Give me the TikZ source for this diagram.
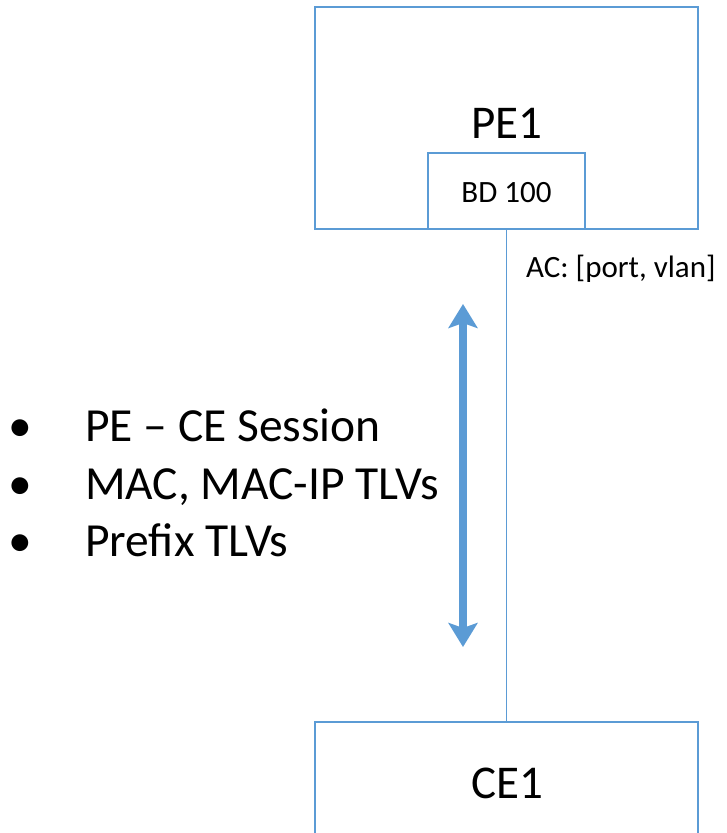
\documentclass[tikz,border=0pt]{standalone}
\usepackage{fontspec}
\setmainfont{Carlito}
\usetikzlibrary{arrows.meta}
\definecolor{lineblue}{HTML}{5B9BD5}
\definecolor{arrowblue}{HTML}{5B9BD5}
\tikzset{
  box/.style={draw=lineblue, line width=1.2pt, fill=white, inner sep=0pt, outer sep=0pt},
  bigtext/.style={font=\fontsize{47}{56}\selectfont, inner sep=0pt, anchor=base},
  smalltext/.style={font=\fontsize{31}{36}\selectfont, inner sep=0pt, anchor=base},
  listtext/.style={font=\fontsize{47.5}{57}\selectfont, inner sep=0pt, anchor=base west},
  link/.style={draw=lineblue, line width=1.2pt},
  bigarrow/.style={draw=arrowblue, line width=8.5pt,
    {Stealth[length=24pt, width=29pt, inset=5pt]}-{Stealth[length=24pt, width=29pt, inset=5pt]}}
}
\begin{document}
\begin{tikzpicture}[x=1pt, y=-1pt]
\useasboundingbox (0,0) rectangle (726,833);
\clip (0,0) rectangle (726,833);
% PE1
\node[box, minimum width=383pt, minimum height=222pt] (pe) at (506.5,118) {};
\node[bigtext] (pelabel) at (507,138) {PE1};
\node[box, minimum width=157pt, minimum height=76pt] (bd) at (506.5,191) {};
\node[smalltext] (bdlabel) at (506.5,202) {BD 100};
% CE1
\node[box, minimum width=383pt, minimum height=222pt, anchor=north] (ce) at (506.5,722) {};
\node[bigtext] (celabel) at (507,798) {CE1};
% connector
\draw[link] (bd.south) -- (ce.north);
\node[smalltext, anchor=base west] (ac) at (526,277) {AC: [port, vlan]};
% big arrow
\coordinate (atop) at (463,304);
\coordinate (abot) at (463,647);
\draw[bigarrow] (atop) -- (abot);
% bullets
\node[listtext] (b1) at (8,441) {•};
\node[listtext] (t1) at (85,441) {PE – CE Session};
\node[listtext] (b2) at (8,499) {•};
\node[listtext] (t2) at (85,499) {MAC, MAC-IP TLVs};
\node[listtext] (b3) at (8,556) {•};
\node[listtext] (t3) at (85,556) {Prefix TLVs};
\end{tikzpicture}
\end{document}
